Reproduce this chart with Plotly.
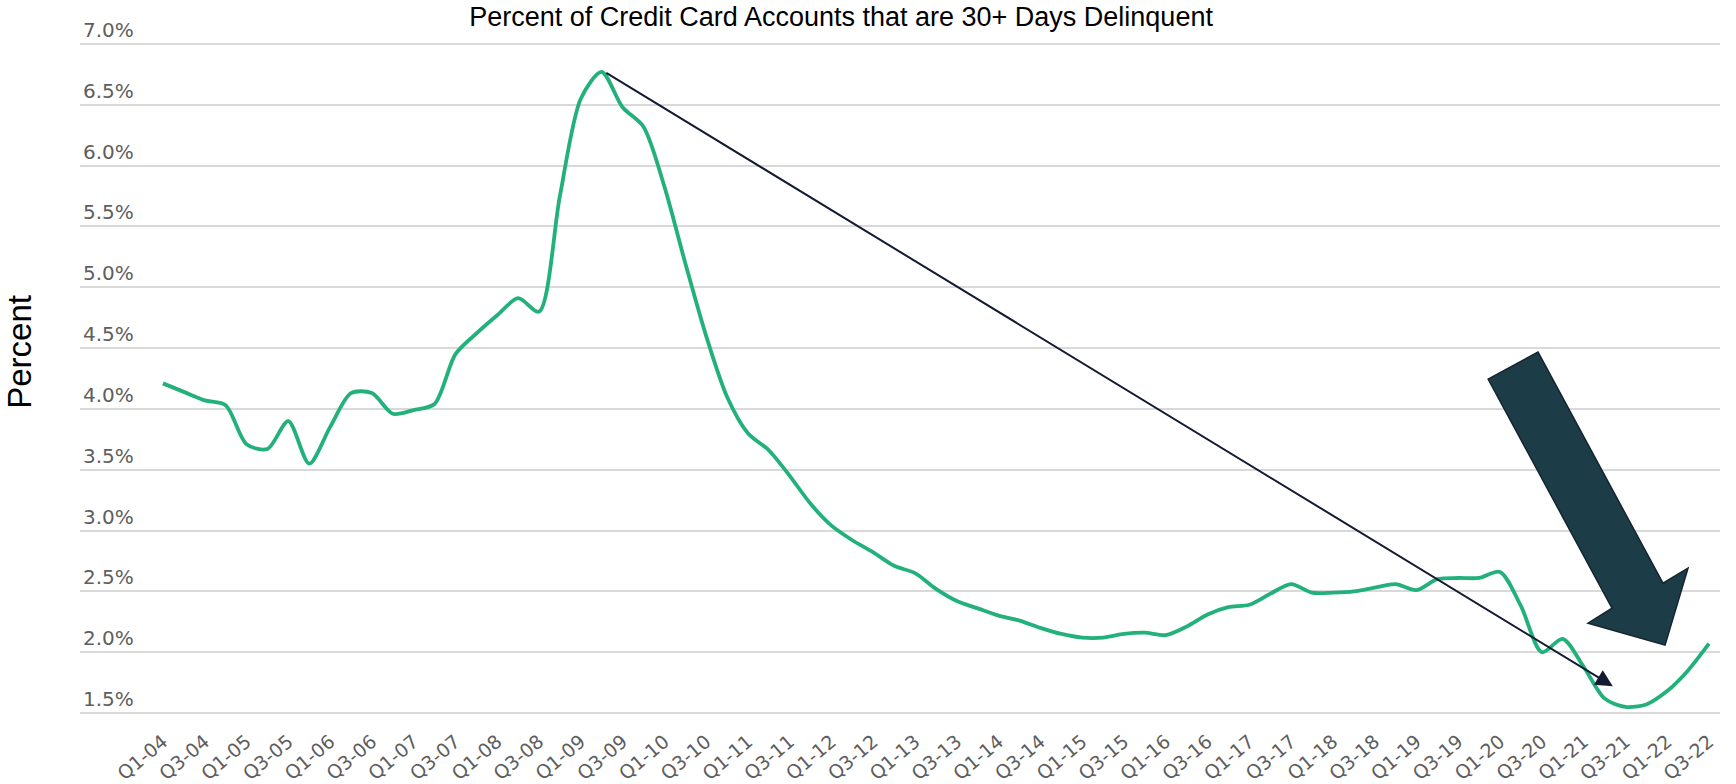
import plotly.graph_objects as go

# Quarterly share of credit card accounts 30+ days delinquent, Q1-2004 .. Q3-2022 (%)
quarters = [
    "Q1-04", "Q2-04", "Q3-04", "Q4-04", "Q1-05", "Q2-05", "Q3-05", "Q4-05",
    "Q1-06", "Q2-06", "Q3-06", "Q4-06", "Q1-07", "Q2-07", "Q3-07", "Q4-07",
    "Q1-08", "Q2-08", "Q3-08", "Q4-08", "Q1-09", "Q2-09", "Q3-09", "Q4-09",
    "Q1-10", "Q2-10", "Q3-10", "Q4-10", "Q1-11", "Q2-11", "Q3-11", "Q4-11",
    "Q1-12", "Q2-12", "Q3-12", "Q4-12", "Q1-13", "Q2-13", "Q3-13", "Q4-13",
    "Q1-14", "Q2-14", "Q3-14", "Q4-14", "Q1-15", "Q2-15", "Q3-15", "Q4-15",
    "Q1-16", "Q2-16", "Q3-16", "Q4-16", "Q1-17", "Q2-17", "Q3-17", "Q4-17",
    "Q1-18", "Q2-18", "Q3-18", "Q4-18", "Q1-19", "Q2-19", "Q3-19", "Q4-19",
    "Q1-20", "Q2-20", "Q3-20", "Q4-20", "Q1-21", "Q2-21", "Q3-21", "Q4-21",
    "Q1-22", "Q2-22", "Q3-22",
]

delinquent_pct = [
    4.21, 4.14, 4.07, 4.03, 3.71, 3.67, 3.90, 3.55,
    3.85, 4.13, 4.13, 3.96, 3.99, 4.04, 4.45, 4.62,
    4.77, 4.91, 4.80, 5.75, 6.55, 6.77, 6.48, 6.32,
    5.83, 5.20, 4.60, 4.10, 3.80, 3.66, 3.45, 3.22,
    3.04, 2.92, 2.82, 2.71, 2.65, 2.52, 2.42, 2.36,
    2.30, 2.26, 2.20, 2.15, 2.12, 2.12, 2.15, 2.16,
    2.14, 2.21, 2.31, 2.37, 2.39, 2.48, 2.56, 2.49,
    2.49, 2.50, 2.53, 2.56, 2.51, 2.60, 2.61, 2.61,
    2.66, 2.38, 2.00, 2.11, 1.88, 1.62, 1.55, 1.57,
    1.68, 1.85, 2.07,
]

# axis ticks: every other quarter is labelled
tick_labels = quarters[::2]
y_ticks = [1.5, 2.0, 2.5, 3.0, 3.5, 4.0, 4.5, 5.0, 5.5, 6.0, 6.5, 7.0]

x_idx = list(range(len(quarters)))
peak_i = max(x_idx, key=lambda i: delinquent_pct[i])

fig = go.Figure()
fig.add_trace(go.Scatter(
    x=x_idx,
    y=delinquent_pct,
    mode="lines",
    line=dict(color="#22b07b", width=3.8, shape="spline", smoothing=0.8),
    hoverinfo="skip",
    showlegend=False,
))

# thin arrow from the 2009 peak down to the 2021 trough
fig.add_annotation(
    x=69.4, y=1.72, xref="x", yref="y",
    ax=peak_i + 0.15, ay=delinquent_pct[peak_i], axref="x", ayref="y",
    showarrow=True, arrowhead=2, arrowsize=1.7, arrowwidth=2,
    arrowcolor="#141a33", text="", standoff=0, startstandoff=0,
)

# bold block arrow pointing at the recent uptick
block_arrow = [
    (63.43, 4.245), (65.82, 4.467), (71.80, 2.567), (73.00, 2.691),
    (71.90, 2.058), (68.21, 2.238), (69.36, 2.362),
]
path = "M " + " L ".join(f"{x},{y}" for x, y in block_arrow) + " Z"
fig.add_shape(
    type="path", path=path, xref="x", yref="y",
    fillcolor="#1c3c48", line=dict(color="#14252f", width=1.5), layer="above",
)

# vertical axis caption
fig.add_annotation(
    text="Percent", textangle=-90,
    x=-0.0366, y=0.5396, xref="paper", yref="paper",
    xanchor="center", yanchor="middle", showarrow=False,
    font=dict(family="Liberation Sans, Arial", size=33, color="black"),
)

fig.update_layout(
    width=1736,
    height=784,
    margin=dict(l=80, r=16, t=41, b=68),
    paper_bgcolor="white",
    plot_bgcolor="white",
    title=dict(
        text="Percent of Credit Card Accounts that are 30+ Days Delinquent",
        font=dict(family="Liberation Sans, Arial", size=27, color="black"),
        x=0.4845, xanchor="center", xref="container",
        y=1 - 17 / 784, yanchor="middle", yref="container",
    ),
    xaxis=dict(
        range=[-3.97, 74.53],
        tickmode="array",
        tickvals=x_idx[::2],
        ticktext=tick_labels,
        tickangle=-40,
        tickfont=dict(family="DejaVu Sans", size=19, color="#5e5e5e"),
        showgrid=False,
        zeroline=False,
        showline=False,
        ticks="",
        ticklabelstandoff=10,
        automargin=False,
    ),
    yaxis=dict(
        range=[1.4753, 7.0247],
        tickmode="array",
        tickvals=y_ticks,
        ticktext=[f"{v:.1f}%" for v in y_ticks],
        tickfont=dict(family="DejaVu Sans", size=20, color="#5e5e5e"),
        ticklabelposition="inside",
        ticklabelshift=-14,
        ticklabeloverflow="allow",
        showgrid=True,
        gridcolor="#d9d9d9",
        gridwidth=1.5,
        zeroline=False,
        showline=False,
        ticks="",
        automargin=False,
    ),
)

fig.write_html("out.html")
